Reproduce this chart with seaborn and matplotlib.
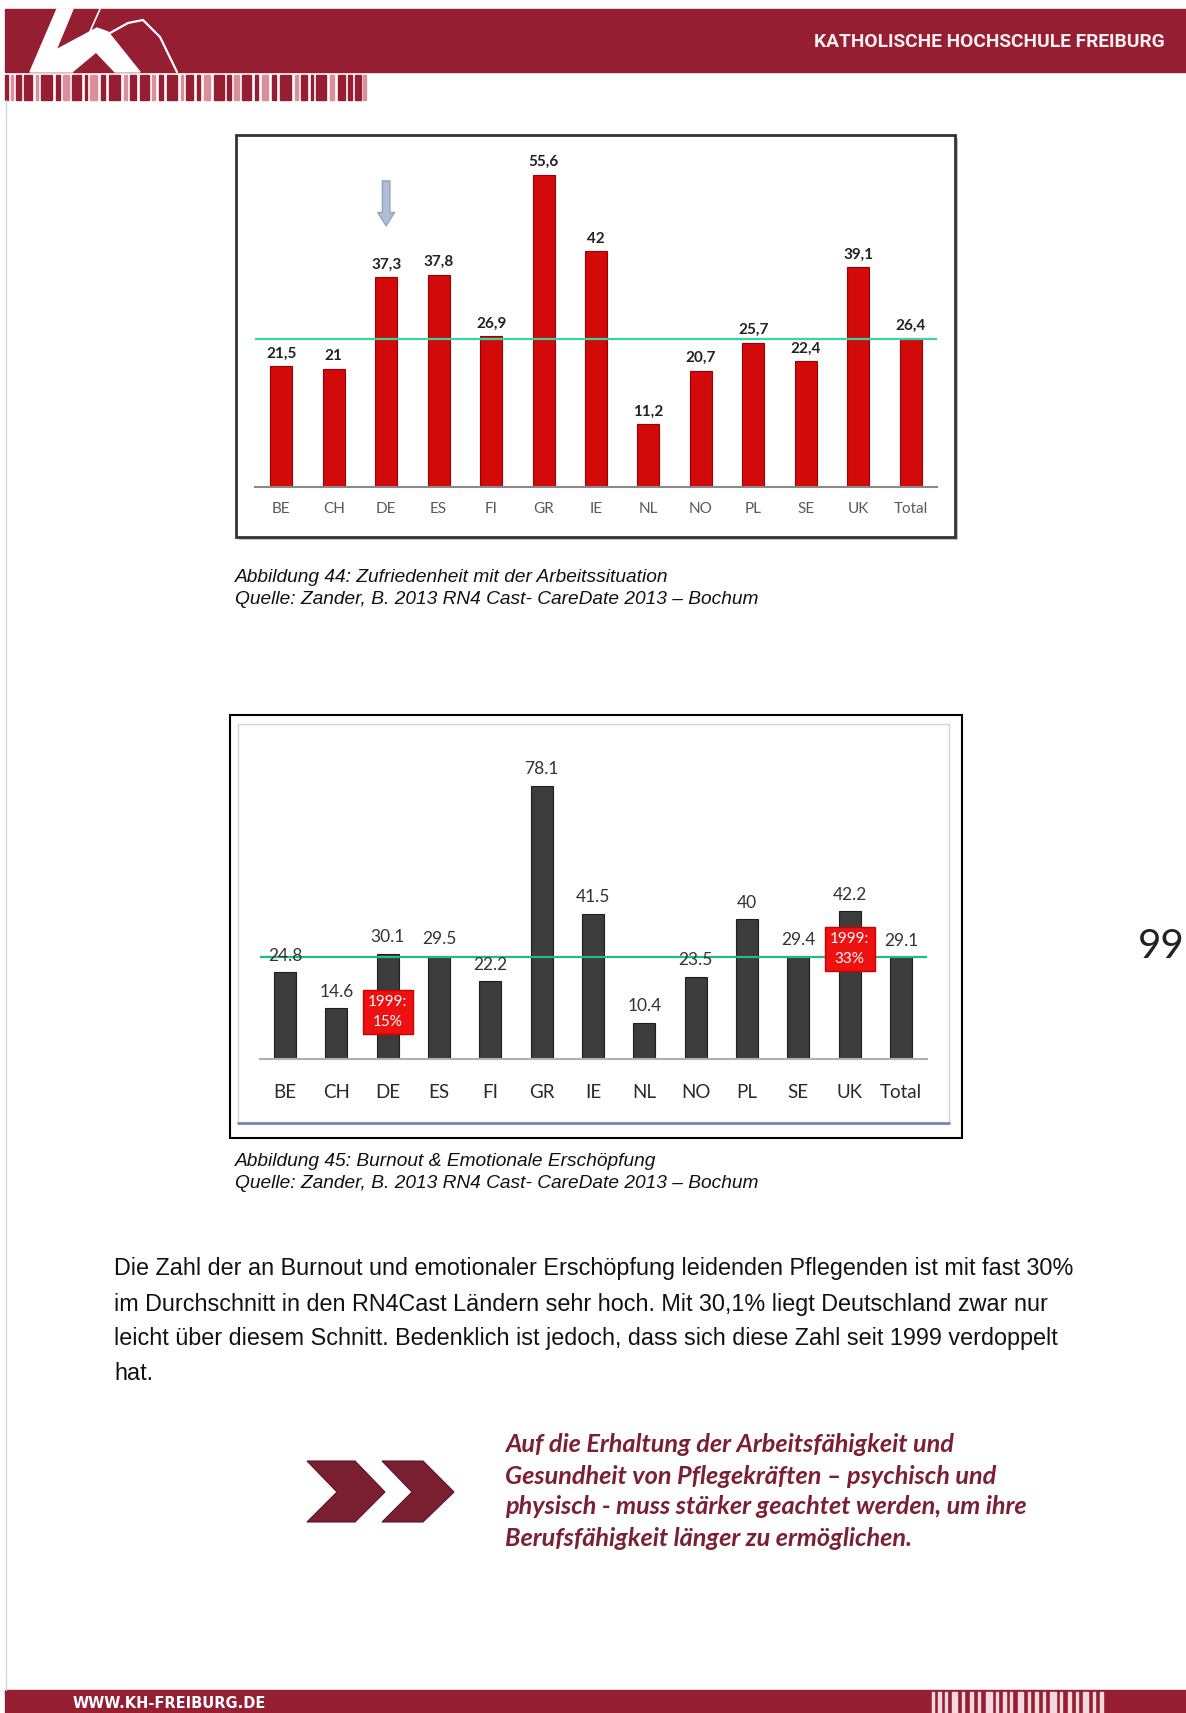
import matplotlib
matplotlib.use("Agg")
import matplotlib.pyplot as plt
import seaborn as sns
from matplotlib.patches import Rectangle, Polygon

# Daten
countries = ["BE", "CH", "DE", "ES", "FI", "GR", "IE", "NL", "NO", "PL", "SE", "UK", "Total"]
zufriedenheit = [21.5, 21, 37.3, 37.8, 26.9, 55.6, 42, 11.2, 20.7, 25.7, 22.4, 39.1, 26.4]
burnout = [24.8, 14.6, 30.1, 29.5, 22.2, 78.1, 41.5, 10.4, 23.5, 40, 29.4, 42.2, 29.1]
burnout_1999_labels = ["1999:\n15%", "1999:\n33%"]
burnout_1999_countries = ["DE", "UK"]

caption1 = ["Abbildung 44: Zufriedenheit mit der Arbeitssituation",
            "Quelle: Zander, B. 2013 RN4 Cast- CareDate 2013 \u2013 Bochum"]
caption2 = ["Abbildung 45: Burnout & Emotionale Ersch\u00f6pfung",
            "Quelle: Zander, B. 2013 RN4 Cast- CareDate 2013 \u2013 Bochum"]
body = ["Die Zahl der an Burnout und emotionaler Ersch\u00f6pfung leidenden Pflegenden ist mit fast 30%",
        "im Durchschnitt in den RN4Cast L\u00e4ndern sehr hoch. Mit 30,1% liegt Deutschland zwar nur",
        "leicht \u00fcber diesem Schnitt. Bedenklich ist jedoch, dass sich diese Zahl seit 1999 verdoppelt",
        "hat."]
merksatz = ["Auf die Erhaltung der Arbeitsf\u00e4higkeit und",
            "Gesundheit von Pflegekr\u00e4ften \u2013 psychisch und",
            "physisch - muss st\u00e4rker geachtet werden, um ihre",
            "Berufsf\u00e4higkeit l\u00e4nger zu erm\u00f6glichen."]

sns.set_theme(style="white")
plt.rcParams["font.family"] = ["Lato", "DejaVu Sans"]

W, H = 1186, 1713
KH_RED = "#961e33"


def px_box(x0, y0, x1, y1):
    return [x0 / W, 1 - y1 / H, (x1 - x0) / W, (y1 - y0) / H]


fig = plt.figure(figsize=(W / 100, H / 100), dpi=100)

# Hintergrund / Seitenlayout in Pixelkoordinaten
bg = fig.add_axes([0, 0, 1, 1])
bg.set_xlim(0, W)
bg.set_ylim(H, 0)
bg.axis("off")
bg.set_zorder(0)

# Kopfzeile mit Logo
bg.add_patch(Rectangle((5, 9), W - 5, 63, color=KH_RED))
bg.add_patch(Polygon([(30, 72), (57, 9), (73, 9), (56, 50), (97, 28), (108, 32), (140, 72),
                      (115, 72), (96, 52), (72, 72)], color="white"))
bg.plot([110, 128, 143, 160, 177], [33, 23, 20, 37, 72], color="white", lw=1.6)
bg.plot([100, 72], [9, 72], color="white", lw=1.2)
bg.text(1165, 42, "KATHOLISCHE HOCHSCHULE FREIBURG", ha="right", va="center",
        color="#f4f0f0", fontsize=13.8, fontweight="bold", family=["Roboto", "DejaVu Sans"])

# Streifen unter der Kopfzeile
stripes = [(5, 3, 1), (10, 2, 0), (15, 4, 1), (22, 7, 1), (32, 2, 0), (37, 9, 1), (50, 3, 1),
           (56, 5, 0), (64, 8, 1), (75, 2, 1), (80, 6, 0), (89, 4, 1), (96, 10, 1), (109, 3, 0),
           (115, 5, 1), (123, 8, 1), (134, 3, 0), (140, 4, 1), (147, 9, 1), (159, 2, 0),
           (164, 6, 1), (173, 3, 1), (180, 5, 0), (188, 9, 1), (200, 3, 1), (206, 4, 0),
           (213, 8, 1), (224, 3, 1), (230, 6, 0), (239, 4, 1), (246, 10, 1), (259, 3, 0),
           (265, 5, 1), (273, 2, 1), (278, 9, 1), (290, 4, 0), (297, 6, 1), (306, 3, 1),
           (312, 5, 1), (319, 3, 0)]
for x, w, dark in stripes:
    bg.add_patch(Rectangle((5 + (x - 5) * 1.14, 75), w * 1.14, 25,
                           color=KH_RED if dark else "#d9909c"))

# linke Randlinie
bg.plot([6, 6], [100, 1690], color="#d8d8d8", lw=1)

# Fusszeile
bg.add_patch(Rectangle((5, 1690), W - 5, 23, color=KH_RED))
bg.text(73, 1703, "WWW.KH-FREIBURG.DE", ha="left", va="center", color="white",
        fontsize=10.5, fontweight="bold", family=["Liberation Sans Narrow", "DejaVu Sans"])
for x, w in [(932, 2), (938, 3), (945, 2), (952, 5), (962, 2), (970, 3), (978, 2), (986, 6),
             (996, 2), (1003, 3), (1010, 2), (1018, 5), (1028, 2), (1035, 3), (1043, 2),
             (1050, 6), (1060, 2), (1068, 3), (1076, 2), (1083, 5), (1093, 2), (1100, 3)]:
    bg.add_patch(Rectangle((x, 1692), w, 21, color="#f2d9de"))

# Seitenzahl
bg.text(1185, 946, "99", ha="right", va="center", fontsize=29, color="#222222")

# Rahmen Diagramm 1
bg.add_patch(Rectangle((239, 138), 719, 402, facecolor="#bbbbbb", edgecolor="none"))
bg.add_patch(Rectangle((236, 135), 719, 402, facecolor="white", edgecolor="#333333", lw=2))

# Rahmen Diagramm 2
bg.add_patch(Rectangle((230, 715), 732, 423, facecolor="white", edgecolor="black", lw=1.5))
bg.add_patch(Rectangle((238, 724), 711, 399, facecolor="white", edgecolor="#d4d4d4", lw=1))
bg.plot([238, 949], [1123, 1123], color="#7088b8", lw=2)

# Bildunterschriften
for i, line in enumerate(caption1):
    bg.text(235, 578 + 22 * i, line, ha="left", va="center", fontsize=13.8, style="italic",
            family=["Liberation Sans", "DejaVu Sans"], color="#111111")
for i, line in enumerate(caption2):
    bg.text(235, 1161 + 22 * i, line, ha="left", va="center", fontsize=13.8, style="italic",
            family=["Liberation Sans", "DejaVu Sans"], color="#111111")

# Fliesstext
for i, line in enumerate(body):
    bg.text(114, 1269 + 35 * i, line, ha="left", va="center", fontsize=16.8,
            family=["Liberation Sans", "DejaVu Sans"], color="#111111")

# Pfeile
for x0, w, edge in [(307, 78, 48), (382, 72, 41)]:
    bg.add_patch(Polygon([(x0, 1461), (x0 + edge, 1461), (x0 + w, 1492), (x0 + edge, 1522),
                          (x0, 1522), (x0 + 30, 1492)], closed=True,
                         facecolor="#7a1f32", edgecolor="#5e1424", lw=0.8))

# Merksatz
for i, line in enumerate(merksatz):
    bg.text(505, 1445 + 31 * i, line, ha="left", va="center", fontsize=18.2,
            fontweight="bold", style="italic", color="#7b1f34")

# ---------------- Diagramm 1: Zufriedenheit ----------------
ax1 = fig.add_axes(px_box(255, 150, 937, 487))
ax1.set_zorder(1)
ax1.patch.set_alpha(0)
sns.barplot(x=countries, y=zufriedenheit, ax=ax1, color="#d20a0a", saturation=1,
            width=0.42, edgecolor="#a00000", linewidth=0.8)
ax1.set_ylim(0, 60)
ax1.axhline(zufriedenheit[-1], color="#36d6a3", lw=1.6, zorder=3)
ax1.bar_label(ax1.containers[0], labels=[f"{v:g}".replace(".", ",") for v in zufriedenheit],
              padding=4, fontsize=11, fontweight="bold", color="#222222")
ax1.annotate("", xy=(countries.index("DE"), 46), xytext=(countries.index("DE"), 55),
             arrowprops=dict(arrowstyle="simple,head_width=1.0,head_length=0.8,tail_width=0.45",
                             facecolor="#aebfd6", edgecolor="#8fa3bf"))
sns.despine(ax=ax1, left=True)
ax1.spines["bottom"].set_color("#8a8a8a")
ax1.spines["bottom"].set_linewidth(1.5)
ax1.set_yticks([])
ax1.set_xlabel("")
ax1.set_ylabel("")
ax1.tick_params(axis="x", length=0, pad=11, labelsize=11, labelcolor="#5a5a5a")

# ---------------- Diagramm 2: Burnout ----------------
ax2 = fig.add_axes(px_box(259.5, 761.5, 926.5, 1059))
ax2.set_zorder(1)
ax2.patch.set_alpha(0)
sns.barplot(x=countries, y=burnout, ax=ax2, color="#3c3c3c", saturation=1,
            width=0.43, edgecolor="#1e1e1e", linewidth=0.8)
ax2.set_ylim(0, 85)
ax2.axhline(burnout[-1], color="#1dbf7c", lw=1.6, zorder=3)
ax2.bar_label(ax2.containers[0], labels=[f"{v:g}" for v in burnout],
              padding=6, fontsize=12.5, color="#333333")
for c, txt, yv in zip(burnout_1999_countries, burnout_1999_labels, [13.4, 31.4]):
    ax2.text(countries.index(c), yv, txt, ha="center", va="center", fontsize=11,
             color="white", linespacing=1.5, zorder=5,
             bbox=dict(boxstyle="square,pad=0.35", facecolor="#ee1111", edgecolor="#cc0000"))
sns.despine(ax=ax2, left=True)
ax2.spines["bottom"].set_color("#b0b0b0")
ax2.spines["bottom"].set_linewidth(1.5)
ax2.set_yticks([])
ax2.set_xlabel("")
ax2.set_ylabel("")
ax2.tick_params(axis="x", length=0, pad=18, labelsize=13.5, labelcolor="#2a2a2a")

fig.savefig("out.png", dpi=100)
